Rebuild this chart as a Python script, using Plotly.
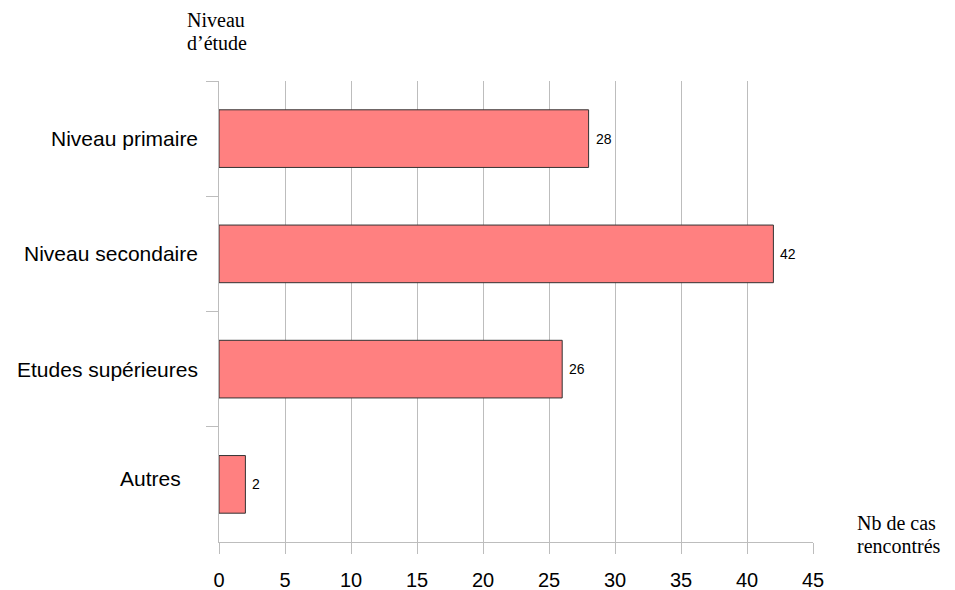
import plotly.graph_objects as go

categories = ["Niveau primaire", "Niveau secondaire", "Etudes supérieures", "Autres"]
values = [28, 42, 26, 2]
x_ticks = [0, 5, 10, 15, 20, 25, 30, 35, 40, 45]

grid = "#bdbdbd"
fig = go.Figure()
fig.add_trace(go.Bar(
    x=values, y=categories, orientation="h", width=0.5,
    marker=dict(color="#ff8080", line=dict(color="#333333", width=1)),
    hoverinfo="skip",
))

ann = []
for c, v in zip(categories, values):
    ann.append(dict(x=v, y=c, xref="x", yref="y", text=str(v), showarrow=False,
                    xanchor="left", xshift=5, font=dict(family="Liberation Sans", size=14, color="black")))
# category labels
for i, c in enumerate(categories):
    if c == "Autres":
        ann.append(dict(x=-0.06, y=i, xref="paper", yref="y", text=c, showarrow=False,
                        xanchor="right", yshift=6, font=dict(family="Liberation Sans", size=21, color="black")))
    else:
        ann.append(dict(x=-0.032, y=i, xref="paper", yref="y", text=c, showarrow=False,
                        xanchor="right", font=dict(family="Liberation Sans", size=21, color="black")))
serif = dict(family="Liberation Serif", size=20, color="black")

def px(xp, yp):
    return (xp - 219) / (813 - 219), (542 - yp) / (542 - 81)

for txt, (xp, yp) in [("Niveau", (185, 20)), ("d’étude", (185, 43)),
                      ("Nb de cas", (855, 523)), ("rencontrés", (855, 546))]:
    xx, yy = px(xp, yp)
    ann.append(dict(x=xx, y=yy, xref="paper", yref="paper", text=txt, showarrow=False,
                    xanchor="left", yanchor="middle", font=serif))

# page body has an 8px margin; compensate so the plot sits where the reference has it
fig.update_layout(
    width=947, height=582,
    margin=dict(l=211, r=142, t=73, b=48),
    paper_bgcolor="white", plot_bgcolor="white",
    showlegend=False,
    annotations=ann,
    xaxis=dict(range=[0, 45], tickvals=x_ticks, showgrid=True, gridcolor=grid, gridwidth=1,
               showline=True, linecolor=grid, ticks="outside", ticklen=11, tickcolor=grid,
               ticklabelstandoff=9, automargin=False,
               zeroline=False, tickfont=dict(family="Liberation Sans", size=20, color="black")),
    yaxis=dict(categoryorder="array", categoryarray=categories, autorange="reversed",
               range=[3.5, -0.5], showticklabels=False, showgrid=False, showline=True,
               linecolor=grid, ticks="outside", ticklen=12, tickcolor=grid,
               tickson="boundaries", zeroline=False, automargin=False),
)
fig.write_html("out.html")
